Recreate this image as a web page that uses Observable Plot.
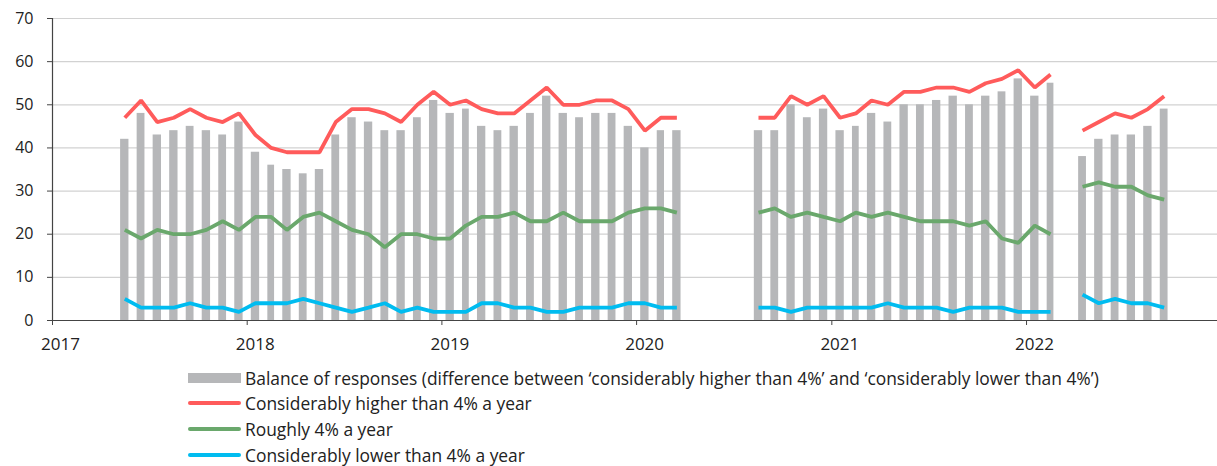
<!DOCTYPE html>
<html>
<head>
<meta charset="utf-8">
<script src="https://cdn.jsdelivr.net/npm/d3@7"></script>
<script src="https://cdn.jsdelivr.net/npm/@observablehq/plot@0.6"></script>
<style>
  html, body { margin: 0; padding: 0; background: #fff; }
  body { width: 1217px; height: 466px; overflow: hidden; font-family: "Open Sans", Lato, sans-serif; }
  #legend { margin-left: 188px; margin-top: 3px; font-size: 17.4px; color: #222; }
  .row { display: flex; align-items: center; height: 25.6px; }
  .sw { width: 53px; margin-right: 4px; flex: none; }
  .bar { height: 10px; background: #b6b7b9; }
  .ln { height: 4px; border-radius: 2px; }
</style>
</head>
<body>
<div id="chart"></div>
<div id="legend"></div>
<script>
// Monthly survey: first and last month shown
const firstMonth = "2017-05-01";
const lastMonth = "2022-09-01";
const yearTicks = [2017, 2018, 2019, 2020, 2021, 2022];
const yTicks = [0, 10, 20, 30, 40, 50, 60, 70];

const seriesNames = [
  "Balance of responses (difference between \u2018considerably higher than 4%\u2019 and \u2018considerably lower than 4%\u2019)",
  "Considerably higher than 4% a year",
  "Roughly 4% a year",
  "Considerably lower than 4% a year"
];
const seriesColors = ["#b6b7b9", "#ff5b5b", "#6aa86c", "#00bcf0"];

const balance = [42,48,43,44,45,44,43,46,39,36,35,34,35,43,47,46,44,44,47,51,48,49,45,44,45,48,52,48,47,48,48,45,40,44,44,
  null,null,null,null,
  44,44,50,47,49,44,45,48,46,50,50,51,52,50,52,53,56,52,55,
  null,
  38,42,43,43,45,49];
const higher = [47,51,46,47,49,47,46,48,43,40,39,39,39,46,49,49,48,46,50,53,50,51,49,48,48,51,54,50,50,51,51,49,44,47,47,
  null,null,null,null,
  47,47,52,50,52,47,48,51,50,53,53,54,54,53,55,56,58,54,57,
  null,
  44,46,48,47,49,52];
const roughly = [21,19,21,20,20,21,23,21,24,24,21,24,25,23,21,20,17,20,20,19,19,22,24,24,25,23,23,25,23,23,23,25,26,26,25,
  null,null,null,null,
  25,26,24,25,24,23,25,24,25,24,23,23,23,22,23,19,18,22,20,
  null,
  31,32,31,31,29,28];
const lower = [5,3,3,3,4,3,3,2,4,4,4,5,4,3,2,3,4,2,3,2,2,2,4,4,3,3,2,2,3,3,3,4,4,3,3,
  null,null,null,null,
  3,3,2,3,3,3,3,3,4,3,3,3,2,3,3,3,2,2,2,
  null,
  6,4,5,4,4,3];

const months = d3.utcMonth.range(new Date(firstMonth), d3.utcMonth.offset(new Date(lastMonth), 1));
const rows = months.map((m, i) => {
  const next = d3.utcMonth.offset(m, 1);
  return {
    start: m, end: next, mid: new Date((+m + +next) / 2),
    balance: balance[i], higher: higher[i], roughly: roughly[i], lower: lower[i]
  };
});

const yearDates = yearTicks.map(y => new Date(Date.UTC(y, 0, 1)));
const font = "'Open Sans', Lato, sans-serif";

const plot = Plot.plot({
  width: 1217,
  height: 362,
  marginLeft: 52,
  marginRight: 0,
  marginTop: 18,
  marginBottom: 42,
  style: { fontFamily: font, fontSize: "16px", color: "#222", background: "#fff" },
  x: { type: "utc", domain: [new Date(Date.UTC(2017, 0, 1)), new Date(Date.UTC(2022, 11, 25))] },
  y: { domain: [0, 70] },
  marks: [
    Plot.gridY(yTicks.slice(1), { stroke: "#d2d2d2", strokeOpacity: 1, strokeWidth: 1.2 }),
    Plot.rectY(rows, { x1: "start", x2: "end", y: "balance", insetLeft: 4.1, insetRight: 4.1, fill: seriesColors[0] }),
    Plot.line(rows, { x: "mid", y: "higher", stroke: seriesColors[1], strokeWidth: 3.8, strokeLinejoin: "miter", strokeLinecap: "butt" }),
    Plot.line(rows, { x: "mid", y: "roughly", stroke: seriesColors[2], strokeWidth: 3.8, strokeLinejoin: "miter", strokeLinecap: "butt" }),
    Plot.line(rows, { x: "mid", y: "lower", stroke: seriesColors[3], strokeWidth: 3.8, strokeLinejoin: "miter", strokeLinecap: "butt" }),
    Plot.ruleY([0], { stroke: "#444", strokeWidth: 1.2 }),
    Plot.ruleX([yearDates[0]], { stroke: "#444", strokeWidth: 1.2 }),
    Plot.axisY({ ticks: yTicks, tickSize: 5, tickPadding: 14, stroke: "#444", fontSize: 16, label: null }),
    Plot.axisX({ ticks: yearDates, tickFormat: () => "", tickSize: 5, stroke: "#444", label: null }),
    Plot.axisX({ ticks: yearDates, tickFormat: d3.utcFormat("%Y"), tickSize: 0, tickPadding: 17, dx: 8, fontSize: 17, label: null })
  ]
});
document.getElementById("chart").appendChild(plot);

const legend = document.getElementById("legend");
seriesNames.forEach((name, i) => {
  const row = document.createElement("div");
  row.className = "row";
  const sw = document.createElement("div");
  sw.className = "sw " + (i === 0 ? "bar" : "ln");
  sw.style.background = seriesColors[i];
  const t = document.createElement("span");
  t.textContent = name;
  row.appendChild(sw);
  row.appendChild(t);
  legend.appendChild(row);
});
</script>
</body>
</html>
